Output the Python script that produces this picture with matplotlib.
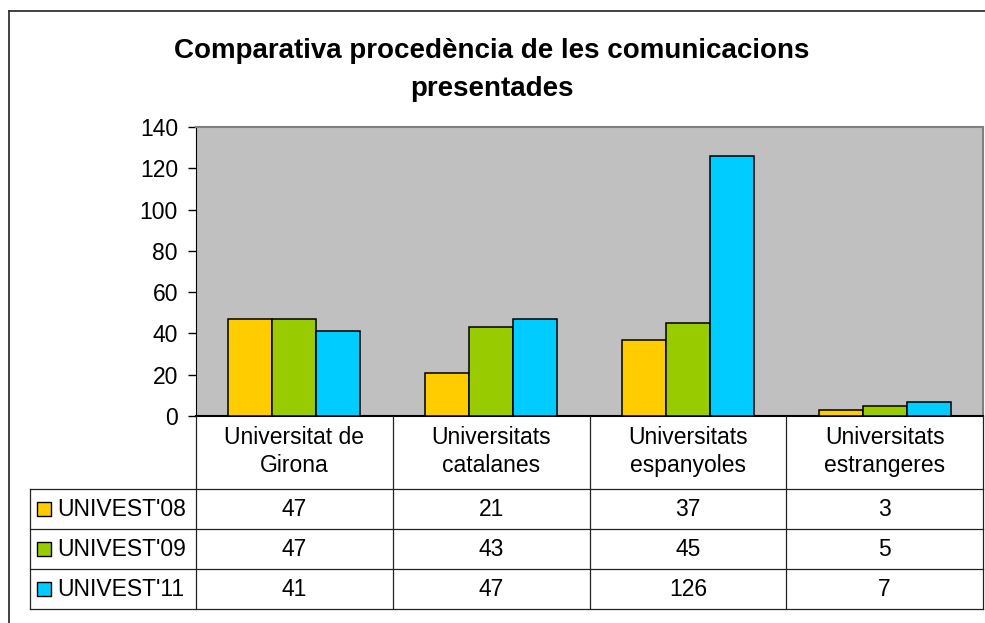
import matplotlib.pyplot as plt
from matplotlib.lines import Line2D
import numpy as np

plt.rcParams['font.family'] = ['Liberation Sans', 'DejaVu Sans']

categories = ["Universitat de\nGirona", "Universitats\ncatalanes",
              "Universitats\nespanyoles", "Universitats\nestrangeres"]
series_names = ["UNIVEST'08", "UNIVEST'09", "UNIVEST'11"]
univest08 = [47, 21, 37, 3]
univest09 = [47, 43, 45, 5]
univest11 = [41, 47, 126, 7]
colors = ["#FFCC00", "#99CC00", "#00CCFF"]

W, H = 985, 623
fig = plt.figure(figsize=(W / 100, H / 100), dpi=100)


def box(x0, y0, x1, y1):
    # pixel box (top-left origin) -> figure fraction
    return [x0 / W, 1 - y1 / H, (x1 - x0) / W, (y1 - y0) / H]


# outer chart frame (only top and left visible)
fig.add_artist(Line2D([9 / W, 9 / W], [0, 1 - 11 / H], color="#333333", lw=1.3))
fig.add_artist(Line2D([9 / W, 1], [1 - 11 / H, 1 - 11 / H], color="#333333", lw=1.3))

fig.text(492 / W, 1 - 51 / H, "Comparativa procedència de les comunicacions",
         ha="center", va="center", fontsize=20, fontweight="bold")
fig.text(492 / W, 1 - 89 / H, "presentades",
         ha="center", va="center", fontsize=20, fontweight="bold")

# bar chart
ax = fig.add_axes(box(196, 127, 983, 416))
ax.set_facecolor("#C0C0C0")
x = np.arange(len(categories))
bw = 0.224
for i, (vals, c) in enumerate(zip([univest08, univest09, univest11], colors)):
    ax.bar(x + (i - 1) * bw, vals, bw, color=c, edgecolor="black", linewidth=1.1, zorder=3)
ax.set_xlim(-0.5, 3.5)
ax.set_ylim(0, 140)
ax.set_yticks(range(0, 141, 20))
ax.set_xticks([])
ax.tick_params(axis="y", labelsize=16.5, length=6, width=1, pad=7)
ax.spines["left"].set_color("black")
ax.spines["bottom"].set_color("black")
ax.spines["bottom"].set_linewidth(1.5)
ax.spines["top"].set_color("#808080")
ax.spines["right"].set_color("#808080")
ax.spines["top"].set_linewidth(1.5)
ax.spines["right"].set_linewidth(1.5)

# data table
leg_w = 166 / 196.75
leg_left = -0.5 - leg_w
hdr_h, row_h = 73, 40
tot_h = hdr_h + row_h * 3
at = fig.add_axes(box(30, 416, 983, 416 + tot_h))
at.set_xlim(leg_left, 3.5)
at.set_ylim(tot_h, 0)
at.axis("off")
lc = "#222222"
for xv in [-0.5, 0.5, 1.5, 2.5, 3.5]:
    at.plot([xv, xv], [0, tot_h], color=lc, lw=0.9, clip_on=False)
at.plot([leg_left, leg_left], [hdr_h, tot_h], color=lc, lw=0.9, clip_on=False)
for r in range(4):
    yv = hdr_h + r * row_h
    at.plot([leg_left, 3.5], [yv, yv], color=lc, lw=0.9, clip_on=False)

for i, cat in enumerate(categories):
    at.text(i, hdr_h / 2 - 1, cat, ha="center", va="center", fontsize=16.5, linespacing=1.3)

for r, (name, vals, c) in enumerate(zip(series_names, [univest08, univest09, univest11], colors)):
    yc = hdr_h + r * row_h + row_h / 2
    at.plot(leg_left + 14 / 196.75, yc, marker="s", markersize=10, color=c,
            markeredgecolor="black", markeredgewidth=1, clip_on=False)
    at.text(leg_left + 27 / 196.75, yc, name, ha="left", va="center", fontsize=16.5)
    for i, v in enumerate(vals):
        at.text(i, yc, str(v), ha="center", va="center", fontsize=16.5)

fig.savefig("out.png", dpi=100)
